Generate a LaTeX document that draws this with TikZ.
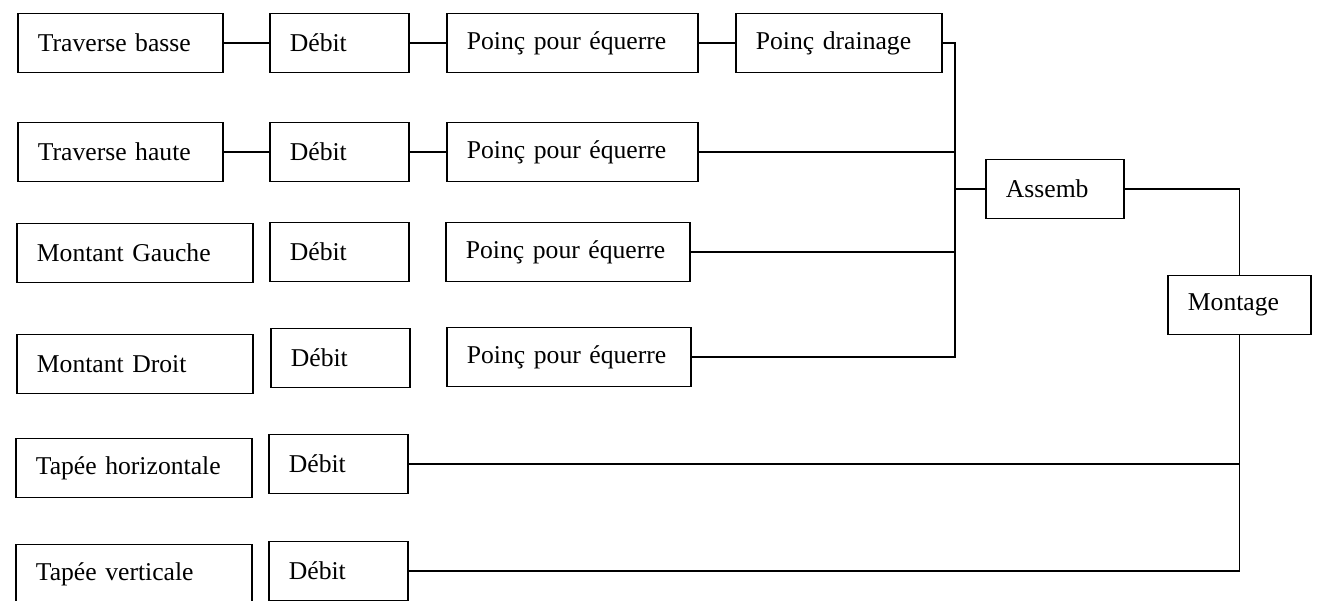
\documentclass[tikz,border=0pt]{standalone}
\usepackage{fontspec}
\setmainfont{Liberation Serif}
\begin{document}
\begin{tikzpicture}[x=0.02cm,y=-0.02cm]
\tikzset{box/.style={draw,line width=1pt,anchor=west,align=left,inner xsep=0.4cm,inner ysep=0pt,minimum height=1.18cm,text width=#1,font=\fontsize{14.6}{17}\selectfont}}
\tikzset{link/.style={line width=0.8pt}}
\useasboundingbox (0,0) rectangle (1317,600);
\clip (0,0) rectangle (1317,600);
\node[box=3.3cm] (TB) at (17,43) {Traverse basse};
\node[box=3.3cm] (TH) at (17,152) {Traverse haute};
\node[box=3.92cm] (MG) at (16,253) {Montant Gauche};
\node[box=3.92cm] (MD) at (16,364) {Montant Droit};
\node[box=3.92cm] (TPH) at (15,468) {Tapée horizontale};
\node[box=3.92cm] (TPV) at (15,574) {Tapée verticale};
\node[box=1.98cm] (D1) at (269,43) {Débit};
\node[box=1.98cm] (D2) at (269,152) {Débit};
\node[box=1.98cm] (D3) at (269,252) {Débit};
\node[box=1.98cm] (D4) at (270,358) {Débit};
\node[box=1.98cm] (D5) at (268,464) {Débit};
\node[box=1.98cm] (D6) at (268,571) {Débit};
\node[box=4.22cm] (P1) at (446,43) {Poinç pour équerre};
\node[box=4.22cm] (P2) at (446,152) {Poinç pour équerre};
\node[box=4.08cm] (P3) at (445,252) {Poinç pour équerre};
\node[box=4.08cm] (P4) at (446,357) {Poinç pour équerre};
\node[box=3.32cm] (PD) at (735,43) {Poinç drainage};
\node[box=1.96cm] (A) at (985,189) {Assemb};
\node[box=2.06cm] (M) at (1167,305) {Montage};
\coordinate (J) at (955,189);
\draw[link] (TB) -- (D1) -- (P1) -- (PD);
\draw[link] (TH) -- (D2) -- (P2);
\draw[link] (PD.east) -| (J);
\draw[link] (P2.east) -| (J);
\draw[link] (P3.east) -| (J);
\draw[link] (P4.east) -| (J);
\draw[link] (J) -- (A.west);
\draw[link] (A.east) -| (M.north);
\draw[link] (D5.east) -| (M.south);
\draw[link] (D6.east) -| (M.south);
\end{tikzpicture}
\end{document}
